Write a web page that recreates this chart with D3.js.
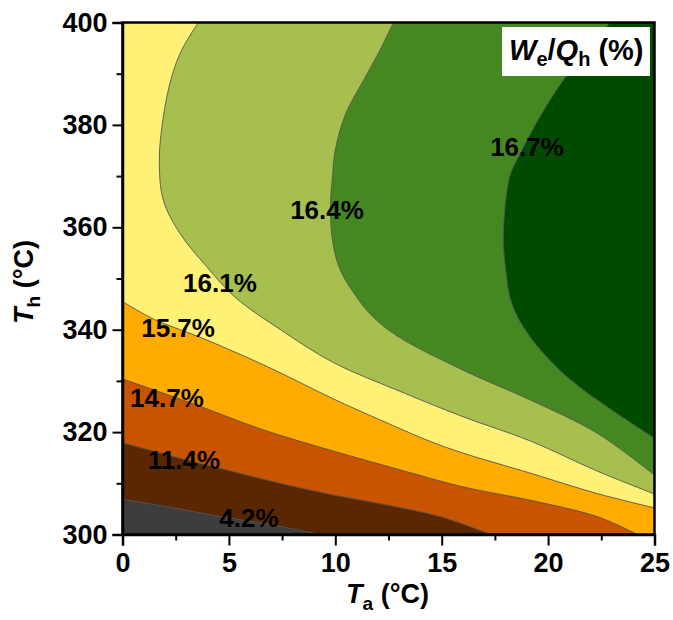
<!DOCTYPE html>
<html>
<head>
<meta charset="utf-8">
<script src="https://cdn.jsdelivr.net/npm/d3@7"></script>
<style>
  body { margin: 0; background: #fff; }
  text { font-family: "Liberation Sans", Arial, sans-serif; font-weight: bold; fill: #000; }
</style>
</head>
<body>
<svg id="chart" width="673" height="620"></svg>
<script>
// contour levels of We/Qh, lowest first
var levels = ['4.2%', '11.4%', '14.7%', '15.7%', '16.1%', '16.4%', '16.7%'];
// band colours, lowest band first (one more than levels)
var bandColors = ['#3d3d3d', '#5a2700', '#c85400', '#ffab00', '#fff176', '#a6bf4e', '#458821', '#004b00'];

// iso-lines, points are [Ta, Th]
var line42 = [[0, 306.9], [2, 305.5], [4.6, 303.5], [7, 301.9], [9.3, 300]];
var line114 = [[0, 317.9], [2.5, 315.1], [4.9, 312.6], [7.5, 309.9], [9.9, 307.7], [12.5, 305.7], [15, 303.4], [17.3, 300]];
var line147 = [[0, 330.4], [1.5, 328.2], [3.6, 325.1], [6.5, 320.6], [9.9, 316.3], [12.9, 312.8], [16, 309.3], [19.15, 306.7], [22.3, 303.5], [24.2, 300]];
var line157 = [[0, 345.5], [1.5, 342], [3.6, 338.6], [6.8, 332.8], [9.9, 326.5], [12.1, 322.4], [14.45, 318.2], [16, 315.9], [19.15, 312], [22.3, 308], [25, 305.2]];
var line161 = [[3.56, 400], [2.78, 394.6], [2.31, 389.4], [1.92, 381.6], [1.73, 373.1], [1.92, 365.3], [2.7, 358.8], [3.96, 352.3], [5.3, 346.3], [7.5, 339.8], [9.9, 333.6], [12.9, 328.2], [16, 323], [19.15, 318.3], [22.3, 312.4], [25, 307.9]];
var line164 = [[12.73, 400], [12.1, 394.6], [11.3, 388.5], [10.5, 382.3], [10.0, 375.1], [9.85, 369], [9.78, 365.3], [9.85, 358], [10.2, 352], [10.9, 347], [11.7, 342.8], [12.9, 338.8], [16, 332.1], [19.15, 326.3], [22.3, 319.8], [25, 311.6]];
var line167 = [[22.9, 400], [21.9, 394.5], [20.9, 389.8], [19.8, 382.9], [18.7, 374.5], [18.2, 369.9], [17.9, 358.8], [18.0, 352], [18.3, 345], [19.15, 338.6], [20.7, 331.5], [22.3, 326.3], [25, 318.8]];
var isoLines = [line42, line114, line147, line157, line161, line164, line167];

// where each contour label sits, [Ta, Th]
var labelPos = [[5.94, 303.2], [2.89, 314.6], [2.09, 326.7], [2.61, 340.3], [4.58, 349.1], [9.61, 363.4], [19.01, 375.7]];

// axes
var xTicks = [0, 5, 10, 15, 20, 25];
var xMinor = [2.5, 7.5, 12.5, 17.5, 22.5];
var yTicks = [300, 320, 340, 360, 380, 400];
var yMinor = [310, 330, 350, 370, 390];

var svg = d3.select('#chart');
var plot = {left: 122.5, right: 654.5, top: 22.5, bottom: 534.5};

var x = d3.scaleLinear().domain([0, 25]).range([plot.left, plot.right]);
var y = d3.scaleLinear().domain([300, 400]).range([plot.bottom, plot.top]);

svg.append('clipPath').attr('id', 'plotClip')
  .append('rect')
    .attr('x', plot.left).attr('y', plot.top)
    .attr('width', plot.right - plot.left).attr('height', plot.bottom - plot.top);

var field = svg.append('g').attr('clip-path', 'url(#plotClip)');

// lowest band fills the whole area
field.append('rect')
  .attr('x', plot.left).attr('y', plot.top)
  .attr('width', plot.right - plot.left).attr('height', plot.bottom - plot.top)
  .attr('fill', bandColors[0]);

var curve = d3.line()
  .x(function(d) { return x(d[0]); })
  .y(function(d) { return y(d[1]); })
  .curve(d3.curveCatmullRom.alpha(0.5));

// each band above a line is closed round the top-right corner
function bandPath(pts) {
  var first = pts[0], last = pts[pts.length - 1];
  var corners = [];
  if (last[1] === 300) corners.push([25, 300]);
  corners.push([25, 400]);
  if (first[0] === 0) corners.push([0, 400]);
  var d = curve(pts);
  corners.forEach(function(c) { d += 'L' + x(c[0]) + ',' + y(c[1]); });
  return d + 'Z';
}

isoLines.forEach(function(pts, i) {
  field.append('path')
    .attr('d', bandPath(pts))
    .attr('fill', bandColors[i + 1]);
});

isoLines.forEach(function(pts) {
  field.append('path')
    .attr('d', curve(pts))
    .attr('fill', 'none')
    .attr('stroke', '#555')
    .attr('stroke-width', 0.9);
});

// contour labels
levels.forEach(function(lv, i) {
  svg.append('text')
    .attr('x', x(labelPos[i][0]))
    .attr('y', y(labelPos[i][1]))
    .attr('text-anchor', 'middle')
    .attr('dominant-baseline', 'central')
    .style('font-size', '26px')
    .text(lv);
});

// frame
svg.append('rect')
  .attr('x', plot.left).attr('y', plot.top)
  .attr('width', plot.right - plot.left).attr('height', plot.bottom - plot.top)
  .attr('fill', 'none').attr('stroke', '#000').attr('stroke-width', 2.5);

function styleAxis(g) {
  g.select('.domain').attr('stroke-width', 2.5);
  g.selectAll('.tick line').attr('stroke-width', 2);
  g.selectAll('.tick text').style('font-size', '27px').attr('fill', '#000');
}

svg.append('g')
  .attr('transform', 'translate(0,' + plot.bottom + ')')
  .call(d3.axisBottom(x).tickValues(xTicks).tickSize(11).tickPadding(7))
  .call(styleAxis);
svg.append('g')
  .attr('transform', 'translate(0,' + plot.bottom + ')')
  .call(d3.axisBottom(x).tickValues(xMinor).tickSize(6).tickFormat(''))
  .call(styleAxis)
  .select('.domain').remove();

svg.append('g')
  .attr('transform', 'translate(' + plot.left + ',0)')
  .call(d3.axisLeft(y).tickValues(yTicks).tickSize(10).tickPadding(5))
  .call(styleAxis);
svg.append('g')
  .attr('transform', 'translate(' + plot.left + ',0)')
  .call(d3.axisLeft(y).tickValues(yMinor).tickSize(6).tickFormat(''))
  .call(styleAxis)
  .select('.domain').remove();

// axis titles
var xt = svg.append('text')
  .attr('x', (plot.left + plot.right) / 2 - 1)
  .attr('y', 603)
  .attr('text-anchor', 'middle')
  .style('font-size', '27px');
xt.append('tspan').style('font-style', 'italic').text('T');
xt.append('tspan').attr('dy', 7).style('font-size', '19px').text('a');
xt.append('tspan').attr('dy', -7).text(' (°C)');

var yt = svg.append('text')
  .attr('transform', 'translate(33,' + 282 + ') rotate(-90)')
  .attr('text-anchor', 'middle')
  .style('font-size', '27px');
yt.append('tspan').style('font-style', 'italic').text('T');
yt.append('tspan').attr('dy', 7).style('font-size', '19px').text('h');
yt.append('tspan').attr('dy', -7).text(' (°C)');

// title box
svg.append('rect')
  .attr('x', 502).attr('y', 27)
  .attr('width', 148).attr('height', 49)
  .attr('fill', '#fff');
var tt = svg.append('text')
  .attr('x', 509).attr('y', 60)
  .style('font-size', '29px');
tt.append('tspan').style('font-style', 'italic').text('W');
tt.append('tspan').attr('dy', 6).style('font-size', '20px').text('e');
tt.append('tspan').attr('dy', -6).text('/');
tt.append('tspan').style('font-style', 'italic').text('Q');
tt.append('tspan').attr('dy', 6).style('font-size', '20px').text('h');
tt.append('tspan').attr('dy', -6).text(' (%)');
</script>
</body>
</html>
